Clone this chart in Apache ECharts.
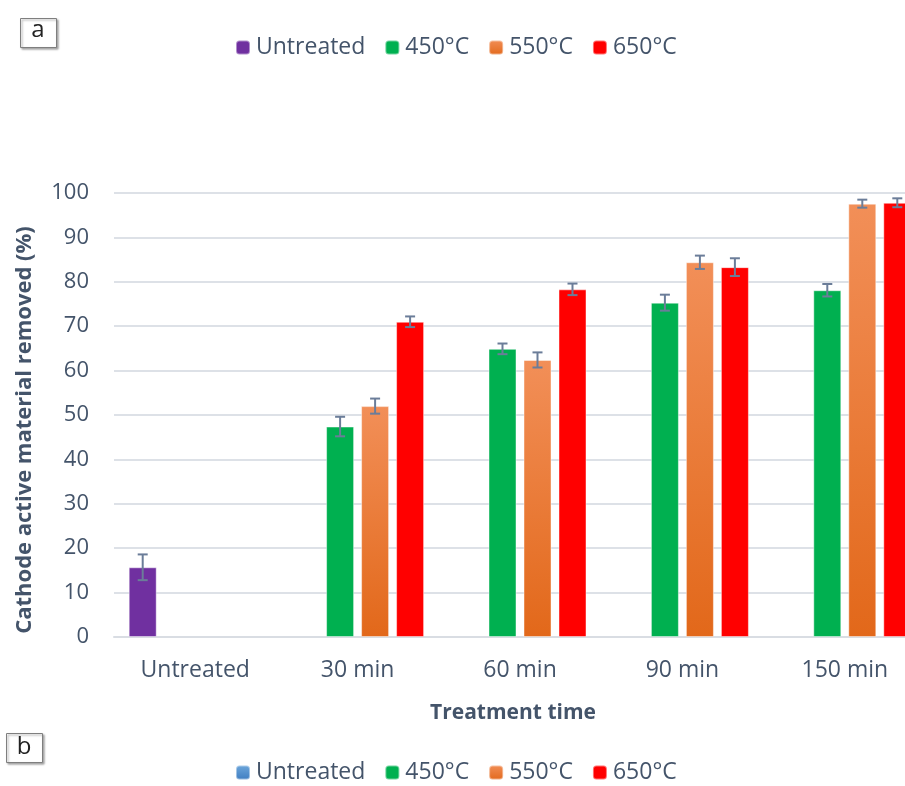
<!DOCTYPE html>
<html><head><meta charset="utf-8">
<script src="https://cdn.jsdelivr.net/npm/echarts@6/dist/echarts.min.js"></script>
<style>html,body{margin:0;padding:0;background:#fff;overflow:hidden;width:905px;height:786px}#c{width:926px;height:786px}</style>
</head><body><div id="c"></div>
<script>
const categories = ['Untreated', '30 min', '60 min', '90 min', '150 min'];
const seriesNames = ['Untreated', '450°C', '550°C', '650°C'];
const untreated = [15.7, null, null, null, null];
const untreatedErr = [2.9, null, null, null, null];
const t450 = [null, 47.4, 64.9, 75.3, 78.1];
const t450Err = [null, 2.2, 1.2, 1.8, 1.4];
const t550 = [null, 52.0, 62.4, 84.4, 97.6];
const t550Err = [null, 1.7, 1.7, 1.5, 0.9];
const t650 = [null, 71.0, 78.3, 83.3, 97.8];
const t650Err = [null, 1.2, 1.3, 2.0, 1.0];
const yTicks = [0, 10, 20, 30, 40, 50, 60, 70, 80, 90, 100];

const values = [untreated, t450, t550, t650];
const errs = [untreatedErr, t450Err, t550Err, t650Err];

const orangeGrad = new echarts.graphic.LinearGradient(0, 0, 0, 1, [
  {offset: 0, color: '#f28f58'}, {offset: 1, color: '#e2681a'}]);
const colors = ['#7030a0', '#00b050', orangeGrad, '#ff0000'];
const blueGrad = new echarts.graphic.LinearGradient(0, 0, 0, 1, [
  {offset: 0, color: '#6fa8dc'}, {offset: 1, color: '#3d7cc0'}]);

const BAR_W = 28, STEP = 35;
const FONT = '"Open Sans", sans-serif';
const TXT = '#44546a';

const errData = [];
errs.forEach((arr, si) => arr.forEach((e, ci) => {
  if (e != null && values[si][ci] != null) errData.push([ci, values[si][ci], e, si]);
}));

const barSeries = seriesNames.map((n, i) => ({
  name: n, type: 'bar', data: values[i], barWidth: BAR_W, barGap: '25%',
  itemStyle: {color: colors[i], borderColor: 'rgba(255,255,255,0.45)', borderWidth: 1},
  emphasis: {disabled: true}
}));

const errSeries = {
  type: 'custom', name: 'err', data: errData, z: 10, silent: true,
  renderItem: function (params, api) {
    const ci = api.value(0), v = api.value(1), e = api.value(2), si = api.value(3);
    const base = api.coord([ci, v]);
    const x = base[0] + (si - 1.5) * STEP;
    const top = api.coord([ci, v + e])[1];
    const bot = api.coord([ci, v - e])[1];
    const st = {stroke: '#6b7d99', lineWidth: 2};
    return {type: 'group', children: [
      {type: 'line', shape: {x1: x, y1: top, x2: x, y2: bot}, style: st},
      {type: 'line', shape: {x1: x - 5, y1: top, x2: x + 5, y2: top}, style: st},
      {type: 'line', shape: {x1: x - 5, y1: bot, x2: x + 5, y2: bot}, style: st}
    ]};
  }
};

const legendText = {fontFamily: FONT, fontSize: 23, color: TXT, padding: [0, 0, 0, 1]};

const chart = echarts.init(document.getElementById('c'), null, {renderer: 'canvas'});
chart.setOption({
  animation: false,
  backgroundColor: '#fff',
  grid: {left: 114, right: 0, top: 193, bottom: 149, outerBoundsMode: 'none', containLabel: false},
  legend: [
    {data: seriesNames, left: 235, top: 36, padding: 0, itemWidth: 14, itemHeight: 14, itemGap: 19,
     textStyle: legendText, selectedMode: false},
    {data: seriesNames.map((n, i) => i === 0 ? {name: n, itemStyle: {color: blueGrad}} : {name: n}),
     left: 235, top: 761, padding: 0, itemWidth: 14, itemHeight: 14, itemGap: 19,
     textStyle: legendText, selectedMode: false}
  ],
  xAxis: {
    type: 'category', data: categories,
    name: 'Treatment time', nameLocation: 'middle', nameGap: 66,
    nameTextStyle: {fontFamily: FONT, fontSize: 21, fontWeight: 'bold', color: TXT, padding: [0, 14, 0, 0]},
    axisLine: {lineStyle: {color: '#d9dde3', width: 2}},
    axisTick: {show: false},
    axisLabel: {fontFamily: FONT, fontSize: 23, color: TXT, margin: 22}
  },
  yAxis: {
    type: 'value', min: 0, max: 100, interval: 10,
    name: 'Cathode active material removed (%)', nameLocation: 'middle', nameGap: 78, nameRotate: 90,
    nameTextStyle: {fontFamily: FONT, fontSize: 22, fontWeight: 'bold', color: TXT, padding: [0, 30, 0, 0]},
    axisLine: {show: false}, axisTick: {show: false},
    splitLine: {lineStyle: {color: '#dde1e7', width: 2}},
    axisLabel: {fontFamily: FONT, fontSize: 22, color: TXT, margin: 25,
      formatter: v => yTicks.includes(v) ? String(v) : ''}
  },
  graphic: [
    {type: 'rect', left: 20, top: 18, shape: {width: 36, height: 29},
     style: {fill: '#fff', stroke: '#7f7f7f', lineWidth: 1, shadowColor: 'rgba(0,0,0,0.35)', shadowOffsetX: 1.5, shadowOffsetY: 1.5, shadowBlur: 2}},
    {type: 'text', x: 38, y: 30, style: {text: 'a', font: '24px ' + FONT, fill: '#222', align: 'center', verticalAlign: 'middle'}},
    {type: 'rect', left: 6, top: 733, shape: {width: 36, height: 29},
     style: {fill: '#fff', stroke: '#7f7f7f', lineWidth: 1, shadowColor: 'rgba(0,0,0,0.35)', shadowOffsetX: 1.5, shadowOffsetY: 1.5, shadowBlur: 2}},
    {type: 'text', x: 24, y: 747, style: {text: 'b', font: '24px ' + FONT, fill: '#222', align: 'center', verticalAlign: 'middle'}}
  ],
  series: barSeries.concat([errSeries])
});
</script></body></html>
